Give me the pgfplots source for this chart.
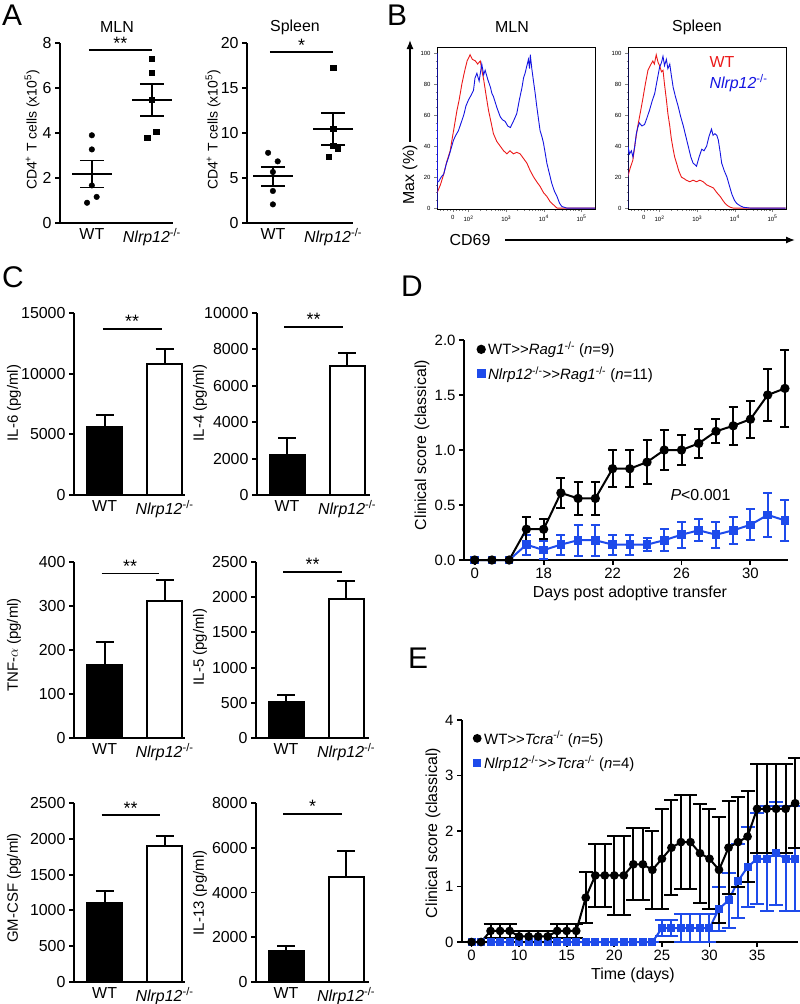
\documentclass[border=0pt]{standalone}
\usepackage{pgfplots}
\pgfplotsset{compat=1.18}
\usepackage{fontspec}
\setmainfont{Liberation Sans}
\usetikzlibrary{arrows.meta}

\definecolor{pblue}{RGB}{30,75,235}
\definecolor{fblue}{RGB}{20,20,225}
\definecolor{fred}{RGB}{235,25,25}

\newcommand{\fs}[1]{\fontsize{#1}{#1}\selectfont}
\newcommand{\ko}{\textit{Nlrp12}\textsuperscript{-/-}}
\newcommand{\into}{>{}>}

\tikzset{sigbar/.style={line width=1.8bp}}

\pgfplotsset{
  prism/.style={
    scale only axis, clip=false, enlargelimits=false,
    axis x line*=bottom, axis y line*=left,
    axis line style={line width=1.9bp, -},
    every tick/.append style={line width=1.9bp, black},
    tick align=outside, major tick length=5bp,
    ymin=0, scaled y ticks=false,
    /pgf/number format/assume math mode=true,
    /pgf/number format/1000 sep={},
    tick label style={font=\fs{16}},
  },
  twogroup/.style={prism, xtick style={draw=none},
    xtick={1,2}, xticklabels={WT,\ko}, xticklabel style={yshift=3bp}},
  meansem/.style={only marks, mark=-, mark size=20bp, mark options={line width=1.9bp},
    error bars/.cd, y dir=both, y explicit, error bar style={line width=1.9bp},
    error mark options={rotate=90, mark size=12bp, line width=1.9bp}},
  barerr/.style={error bars/.cd, y dir=plus, y explicit, error bar style={line width=1.9bp},
    error mark options={rotate=90, mark size=9bp, line width=1.9bp}},
  barwt/.style={fill=black, draw=black, line width=1.9bp, bar shift=0pt, barerr},
  barko/.style={fill=white, draw=black, line width=1.9bp, bar shift=0pt, barerr},
  flow/.style={scale only axis, width=158bp, height=162bp,
    xmin=1.16, xmax=5.36, ymin=-0.6, ymax=104,
    axis line style={line width=0.6bp}, tick align=outside,
    xtick pos=left, ytick pos=left,
    xtick={1.58,2,3,4,5},
    xticklabels={0,10\textsuperscript{2},10\textsuperscript{3},10\textsuperscript{4},10\textsuperscript{5}},
    minor xtick={1.25,1.33,1.42,1.5,1.66,1.75,1.83,1.92,
      2.301,2.477,2.602,2.699,2.778,2.845,2.903,2.954,
      3.301,3.477,3.602,3.699,3.778,3.845,3.903,3.954,
      4.301,4.477,4.602,4.699,4.778,4.845,4.903,4.954},
    ytick={0,20,...,100}, minor y tick num=3,
    major tick length=3bp, minor tick length=1.5bp,
    every tick/.append style={line width=0.5bp},
    /pgf/number format/assume math mode=true,
    tick label style={font=\fs{6}}},
  score/.style={prism, tick label style={font=\fs{15}},
    reverse legend, legend cell align=left,
    legend style={at={(0,1)}, anchor=north west, draw=none, fill=none,
      font=\fs{15}, row sep=6bp, inner sep=0pt},
    legend image code/.code={\draw[mark repeat=2, mark phase=2, #1] plot coordinates {(0bp,0bp) (4bp,0bp) (8bp,0bp)};}},
}

\begin{document}
\begin{tikzpicture}[x=1bp,y=-1bp]
\useasboundingbox (0,0) rectangle (800,1004);

% ---------------- A ----------------
\begin{axis}[twogroup, at={(60bp,-223bp)}, anchor=south west, width=113bp, height=180bp,
  xmin=0.47, xmax=2.35, ymax=8, ytick={0,2,...,8}]
\addplot[only marks, mark=*, mark size=2.8bp] coordinates {(1,3.9) (1,3.27) (1,1.67) (1.08,1.16) (0.92,0.9)};
\addplot[only marks, mark=square*, mark size=2.6bp] coordinates {(2,7.3) (2,6.67) (2,5.48) (2.07,4.07) (1.92,3.8)};
\addplot[meansem] coordinates {(1,2.18) +- (0,0.6) (2,5.46) +- (0,0.7)};
\draw[sigbar] (axis cs:0.95,7.7) -- (axis cs:2,7.7) node[midway, above=-4bp, font=\fs{18}] {**};
\end{axis}

\begin{axis}[twogroup, at={(247bp,-223bp)}, anchor=south west, width=106bp, height=180bp,
  xmin=0.57, xmax=2.33, ymax=20, ytick={0,5,...,20}]
\addplot[only marks, mark=*, mark size=2.8bp] coordinates {(0.92,7.8) (1.08,6.85) (1,5.67) (1,3.56) (1,2.07)};
\addplot[only marks, mark=square*, mark size=2.6bp] coordinates {(2,17.3) (2,10.5) (2,8.6) (2.08,8.26) (1.92,7.4)};
\addplot[meansem] coordinates {(1,5.19) +- (0,1.03) (2,10.44) +- (0,1.8)};
\draw[sigbar] (axis cs:0.95,19) -- (axis cs:2,19) node[midway, above=-4bp, font=\fs{18}] {*};
\end{axis}

\node[font=\fs{30}] at (12,15) {A};
\node[font=\fs{16}] at (117,27) {MLN};
\node[font=\fs{16}] at (295,27) {Spleen};
\node[rotate=90, font=\fs{14}] at (32,130) {CD4\textsuperscript{+} T cells (x10\textsuperscript{5})};
\node[rotate=90, font=\fs{14}] at (213,130) {CD4\textsuperscript{+} T cells (x10\textsuperscript{5})};

% ---------------- B ----------------
\begin{axis}[flow, at={(437bp,-209bp)}, anchor=south west]
\addplot[fred, line width=0.9bp] coordinates {
(1.16,9.7) (1.25,15) (1.34,22) (1.42,30) (1.51,37) (1.60,50) (1.69,63) (1.75,70) (1.82,80)
(1.89,88) (1.96,95) (2.00,97) (2.04,99) (2.10,96) (2.18,95) (2.24,93) (2.31,95) (2.36,88)
(2.40,83) (2.47,72) (2.53,63) (2.60,55) (2.66,48) (2.75,43) (2.84,40) (2.93,37) (3.02,35)
(3.10,37) (3.19,35) (3.28,36) (3.37,35) (3.46,32) (3.55,29) (3.64,24) (3.73,20) (3.81,17)
(3.90,14) (3.99,10) (4.08,7.5) (4.17,4) (4.26,2) (4.35,0) (5.36,0)};
\addplot[fblue, line width=0.9bp] coordinates {
(1.165,0) (1.165,100) (1.17,17) (1.20,17) (1.27,20) (1.34,22) (1.40,28) (1.47,33) (1.53,38)
(1.60,44) (1.66,47) (1.73,50) (1.80,55) (1.87,60) (1.93,66) (2.00,70) (2.07,73) (2.13,76)
(2.17,84) (2.22,87) (2.28,82) (2.35,93) (2.40,86) (2.44,89) (2.51,83) (2.58,78) (2.62,74)
(2.66,72) (2.75,65) (2.84,59) (2.90,57) (2.97,56) (3.04,53) (3.11,52) (3.19,56) (3.28,61)
(3.35,70) (3.42,78) (3.46,84) (3.50,87) (3.55,92) (3.59,96) (3.62,90) (3.64,99) (3.68,90)
(3.73,81) (3.77,74) (3.81,66) (3.86,57) (3.90,50) (3.95,46) (3.99,42) (4.04,35) (4.08,29)
(4.15,22) (4.21,16) (4.28,11) (4.35,7.5) (4.42,3) (4.48,1) (4.61,0) (5.36,0)};
\end{axis}

\begin{axis}[flow, at={(628bp,-209bp)}, anchor=south west]
\addplot[fred, line width=0.9bp] coordinates {
(1.15,20) (1.22,26) (1.29,31) (1.35,42) (1.42,53) (1.49,62) (1.55,70) (1.62,80) (1.69,89)
(1.75,92) (1.82,95) (1.86,93) (1.91,99) (1.96,94) (2.00,92) (2.05,88) (2.09,89) (2.13,80)
(2.18,70) (2.22,61) (2.27,53) (2.31,45) (2.36,38) (2.40,33) (2.45,29) (2.51,24) (2.58,20)
(2.65,19) (2.71,18) (2.80,17) (2.89,18) (2.98,17) (3.07,18) (3.16,17) (3.25,15) (3.34,14)
(3.43,13) (3.52,10) (3.61,7.5) (3.68,5) (3.74,3) (3.81,1.5) (3.88,0.5) (3.96,0) (5.35,0)};
\addplot[fblue, line width=0.9bp] coordinates {
(1.155,0) (1.155,100) (1.16,40) (1.20,35) (1.25,37) (1.29,33) (1.34,40) (1.38,48) (1.42,52)
(1.46,55) (1.53,53) (1.60,54) (1.66,58) (1.73,63) (1.80,69) (1.87,74) (1.93,82) (2.00,91)
(2.05,94) (2.09,98) (2.13,92) (2.18,96) (2.22,90) (2.27,93) (2.31,86) (2.36,78) (2.42,72)
(2.49,66) (2.56,59) (2.63,53) (2.70,46) (2.76,40) (2.83,33) (2.89,29) (2.94,28) (2.98,27)
(3.05,33) (3.12,38) (3.18,37) (3.25,40) (3.31,46) (3.38,51) (3.42,47) (3.47,48) (3.52,47)
(3.56,44) (3.61,36) (3.65,29) (3.72,24) (3.79,20) (3.86,14) (3.92,9) (3.99,5) (4.05,3)
(4.14,1.5) (4.23,0.5) (4.41,0) (5.35,0)};
\end{axis}

\node[font=\fs{30}] at (397,15) {B};
\node[font=\fs{16}] at (512,27) {MLN};
\node[font=\fs{16}] at (697,27) {Spleen};
\node[anchor=west, text=fred, font=\fs{16}] at (706,62) {WT};
\node[anchor=west, text=fblue, font=\fs{16}] at (706,83) {\ko};
\draw[line width=1.3bp, -{Latex[length=9bp,width=7bp]}] (410,142) -- (410,40);
\node[rotate=90, font=\fs{16}] at (410,175) {Max (\%)};
\node[font=\fs{16}] at (470,240) {CD69};
\draw[line width=1.3bp, -{Latex[length=9bp,width=7bp]}] (505,240) -- (795,240);

% ---------------- C ----------------
\begin{axis}[twogroup, ybar, bar width=35bp, at={(74bp,-495bp)}, anchor=south west,
  width=111bp, height=182bp, xmin=0.49, xmax=2.34, ymax=15000, ytick={0,5000,10000,15000}]
\addplot[barwt] coordinates {(1,5590) +- (0,1010)};
\addplot[barko] coordinates {(2,10820) +- (0,1240)};
\draw[sigbar] (axis cs:0.97,13680) -- (axis cs:1.95,13680) node[midway, above=-3bp, font=\fs{18}] {**};
\end{axis}

\begin{axis}[twogroup, ybar, bar width=35bp, at={(257bp,-495bp)}, anchor=south west,
  width=113bp, height=182bp, xmin=0.5, xmax=2.38, ymax=10000, ytick={0,2000,...,10000}]
\addplot[barwt] coordinates {(1,2200) +- (0,920)};
\addplot[barko] coordinates {(2,7100) +- (0,700)};
\draw[sigbar] (axis cs:0.95,9230) -- (axis cs:1.93,9230) node[midway, above=-3bp, font=\fs{18}] {**};
\end{axis}

\begin{axis}[twogroup, ybar, bar width=35bp, at={(74bp,-738bp)}, anchor=south west,
  width=111bp, height=176bp, xmin=0.49, xmax=2.34, ymax=400, ytick={0,100,...,400}]
\addplot[barwt] coordinates {(1,165) +- (0,53)};
\addplot[barko] coordinates {(2,311) +- (0,49)};
\draw[sigbar] (axis cs:0.95,374) -- (axis cs:1.9,374) node[midway, above=-3bp, font=\fs{18}] {**};
\end{axis}

\begin{axis}[twogroup, ybar, bar width=35bp, at={(256bp,-738bp)}, anchor=south west,
  width=113bp, height=176bp, xmin=0.5, xmax=2.38, ymax=2500, ytick={0,500,...,2500}]
\addplot[barwt] coordinates {(1,512) +- (0,100)};
\addplot[barko] coordinates {(2,1976) +- (0,256)};
\draw[sigbar] (axis cs:0.95,2357) -- (axis cs:1.93,2357) node[midway, above=-3bp, font=\fs{18}] {**};
\end{axis}

\begin{axis}[twogroup, ybar, bar width=35bp, at={(74bp,-982bp)}, anchor=south west,
  width=111bp, height=179bp, xmin=0.49, xmax=2.34, ymax=2500, ytick={0,500,...,2500}]
\addplot[barwt] coordinates {(1,1103) +- (0,163)};
\addplot[barko] coordinates {(2,1904) +- (0,140)};
\draw[sigbar] (axis cs:0.95,2328) -- (axis cs:1.92,2328) node[midway, above=-3bp, font=\fs{18}] {**};
\end{axis}

\begin{axis}[twogroup, ybar, bar width=35bp, at={(256bp,-982bp)}, anchor=south west,
  width=113bp, height=179bp, xmin=0.5, xmax=2.38, ymax=8000, ytick={0,2000,...,8000}]
\addplot[barwt] coordinates {(1,1400) +- (0,224)};
\addplot[barko] coordinates {(2,4678) +- (0,1162)};
\draw[sigbar] (axis cs:0.95,7523) -- (axis cs:1.93,7523) node[midway, above=-3bp, font=\fs{18}] {*};
\end{axis}

\node[font=\fs{30}] at (13,277) {C};
\node[rotate=90, font=\fs{15}] at (14,403) {IL-6 (pg/ml)};
\node[rotate=90, font=\fs{15}] at (200,403) {IL-4 (pg/ml)};
\node[rotate=90, font=\fs{15}] at (14,645) {TNF-$\alpha$ (pg/ml)};
\node[rotate=90, font=\fs{15}] at (200,647) {IL-5 (pg/ml)};
\node[rotate=90, font=\fs{15}] at (14,888) {GM-CSF (pg/ml)};
\node[rotate=90, font=\fs{15}] at (200,893) {IL-13 (pg/ml)};

% ---------------- D ----------------
\begin{axis}[score, at={(464bp,-560bp)}, anchor=south west, width=324bp, height=220bp,
  xmin=13.38, xmax=32.18, ymax=2, xtick={14,18,22,26,30}, xticklabels={0,18,22,26,30},
  ytick={0,0.5,...,2},
  yticklabel style={/pgf/number format/.cd, fixed, fixed zerofill, precision=1},
  legend style={xshift=12bp, yshift=0bp}]
\addplot[pblue, line width=2bp, mark=square*, mark size=3.3bp,
  error bars/.cd, y dir=both, y explicit, error bar style={line width=2bp},
  error mark options={rotate=90, mark size=4.5bp, line width=2bp}]
  table[x=x, y=y, y error=e] {
x y e
14 0 0
15 0 0
16 0 0
17 0.14 0.09
18 0.09 0.08
19 0.14 0.09
20 0.18 0.14
21 0.18 0.14
22 0.14 0.09
23 0.14 0.09
24 0.14 0.06
25 0.18 0.10
26 0.23 0.12
27 0.27 0.10
28 0.23 0.12
29 0.27 0.12
30 0.32 0.14
31 0.41 0.20
32 0.36 0.19
};
\addlegendentry{\ko\into\textit{Rag1}\textsuperscript{-/-} (\textit{n}=11)}
\addplot[black, line width=2bp, mark=*, mark size=3.6bp,
  error bars/.cd, y dir=both, y explicit, error bar style={line width=2bp},
  error mark options={rotate=90, mark size=4.5bp, line width=2bp}]
  table[x=x, y=y, y error=e] {
x y e
14 0 0
15 0 0
16 0 0
17 0.28 0.11
18 0.28 0.09
19 0.61 0.14
20 0.56 0.15
21 0.56 0.15
22 0.83 0.17
23 0.83 0.17
24 0.89 0.20
25 1.00 0.18
26 1.00 0.14
27 1.06 0.13
28 1.17 0.11
29 1.22 0.17
30 1.28 0.17
31 1.50 0.24
32 1.56 0.35
};
\addlegendentry{WT\into\textit{Rag1}\textsuperscript{-/-} (\textit{n}=9)}
\node[font=\fs{16}] at (axis cs:27.1,0.59) {\textit{P}<0.001};
\end{axis}

\node[font=\fs{30}] at (412,286) {D};
\node[rotate=90, font=\fs{16}] at (422,445) {Clinical score (classical)};
\node[font=\fs{16}] at (630,593) {Days post adoptive transfer};

% ---------------- E ----------------
\begin{axis}[score, at={(462bp,-942bp)}, anchor=south west, width=336bp, height=222bp,
  xmin=4.0, xmax=39.3, ymax=4, xtick={5,10,...,35}, xticklabels={0,10,15,20,25,30,35},
  ytick={0,1,...,4}, legend style={xshift=10bp, yshift=-9bp}]
\addplot[pblue, line width=2bp, mark=square*, mark size=3bp,
  error bars/.cd, y dir=both, y explicit, error bar style={line width=2bp},
  error mark options={rotate=90, mark size=7bp, line width=2bp}]
  table[x=x, y=y, y error=e] {
x y e
5 0 0
6 0 0
7 0 0
8 0 0
9 0 0
10 0 0
11 0 0
12 0 0
13 0 0
14 0 0
15 0 0
16 0 0
17 0 0
18 0 0
19 0 0
20 0 0
21 0 0
22 0 0
23 0 0
24 0 0
25 0.25 0.14
26 0.25 0.14
27 0.25 0.25
28 0.25 0.25
29 0.25 0.25
30 0.25 0.25
31 0.6 0.4
32 0.75 0.5
33 1.1 0.67
34 1.35 0.72
35 1.5 0.82
36 1.5 0.95
37 1.6 0.93
38 1.5 0.95
39 1.5 0.95
};
\addlegendentry{\ko\into\textit{Tcra}\textsuperscript{-/-} (\textit{n}=4)}
\addplot[black, line width=2bp, mark=*, mark size=3.3bp,
  error bars/.cd, y dir=both, y explicit, error bar style={line width=2bp},
  error mark options={rotate=90, mark size=7bp, line width=2bp}]
  table[x=x, y=y, y error=e] {
x y e
5 0 0
6 0 0
7 0.2 0.13
8 0.2 0.13
9 0.2 0.13
10 0.1 0.1
11 0.1 0.1
12 0.1 0.1
13 0.1 0.1
14 0.2 0.13
15 0.2 0.13
16 0.2 0.13
17 0.8 0.46
18 1.2 0.57
19 1.2 0.57
20 1.2 0.71
21 1.2 0.71
22 1.4 0.65
23 1.4 0.65
24 1.3 0.70
25 1.5 0.90
26 1.7 0.85
27 1.8 0.85
28 1.8 0.85
29 1.6 0.89
30 1.5 0.90
31 1.3 0.95
32 1.7 0.84
33 1.8 0.81
34 1.9 0.82
35 2.4 0.80
36 2.4 0.80
37 2.4 0.80
38 2.4 0.80
39 2.5 0.81
};
\addlegendentry{WT\into\textit{Tcra}\textsuperscript{-/-} (\textit{n}=5)}
\end{axis}

\node[font=\fs{30}] at (418,658) {E};
\node[rotate=90, font=\fs{16}] at (433,833) {Clinical score (classical)};
\node[font=\fs{16}] at (633,975) {Time (days)};

\end{tikzpicture}
\end{document}
